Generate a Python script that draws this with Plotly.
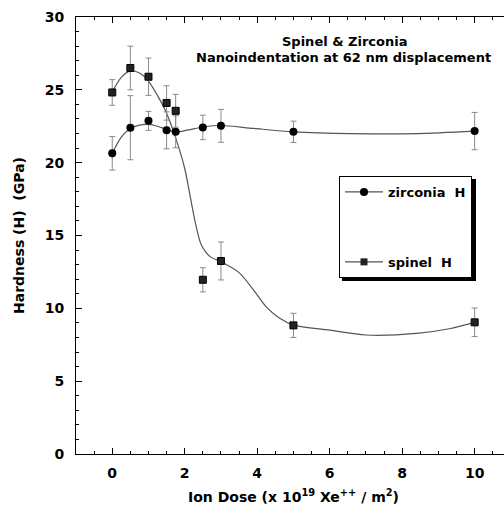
import plotly.graph_objects as go

# --- data ---
dose = [0, 0.5, 1, 1.5, 1.75, 2.5, 3, 5, 10]

zirconia_h = [20.64, 22.4, 22.87, 22.22, 22.12, 22.42, 22.53, 22.12, 22.17]
zirconia_err = [1.15, 2.2, 0.65, 1.27, 1.1, 0.84, 1.13, 0.73, 1.28]

spinel_h = [24.82, 26.5, 25.9, 24.1, 23.56, 11.96, 13.25, 8.83, 9.04]
spinel_err = [0.88, 1.5, 1.28, 1.18, 1.13, 0.83, 1.3, 0.83, 0.98]

# smoothed fit curves
zirconia_fit_x = [0, 0.25, 0.5, 0.75, 1.0, 1.25, 1.5, 1.75, 2.1, 2.5, 3.0, 3.9, 5.0, 6.6, 8.4, 10]
zirconia_fit_y = [20.64, 21.75, 22.35, 22.58, 22.63, 22.5, 22.28, 22.1, 22.25, 22.45, 22.55, 22.35, 22.12, 22.0, 22.0, 22.17]

spinel_fit_x = [0, 0.25, 0.5, 0.75, 1.0, 1.25, 1.5, 1.75, 2.0, 2.15, 2.3, 2.45, 2.7, 3.0, 3.5, 3.9, 4.25, 4.6, 5.0, 6.0, 7.0, 8.4, 9.3, 10]
spinel_fit_y = [24.85, 25.85, 26.3, 26.15, 25.6, 24.6, 23.4, 21.7, 19.6, 17.7, 15.8, 14.4, 13.55, 13.2, 12.45, 11.25, 10.1, 9.35, 8.85, 8.5, 8.17, 8.28, 8.6, 9.04]

x_ticks = [0, 2, 4, 6, 8, 10]
y_ticks = [0, 5, 10, 15, 20, 25, 30]

FONT = "DejaVu Sans"
LINE_C = "#555555"
ERR_C = "#8a8a8a"

fig = go.Figure()

fig.add_trace(go.Scatter(x=zirconia_fit_x, y=zirconia_fit_y, mode="lines",
                         line=dict(color=LINE_C, width=1.2, shape="spline", smoothing=0.8),
                         showlegend=False, hoverinfo="skip"))
fig.add_trace(go.Scatter(x=spinel_fit_x, y=spinel_fit_y, mode="lines",
                         line=dict(color=LINE_C, width=1.2, shape="spline", smoothing=0.8),
                         showlegend=False, hoverinfo="skip"))

fig.add_trace(go.Scatter(x=dose, y=zirconia_h, mode="markers", name="zirconia  H",
                         legendgroup="z", showlegend=False,
                         marker=dict(symbol="circle", size=8, color="black"),
                         error_y=dict(type="data", array=zirconia_err, color=ERR_C,
                                      thickness=1, width=3)))
fig.add_trace(go.Scatter(x=dose, y=spinel_h, mode="markers", name="spinel  H",
                         legendgroup="s", showlegend=False,
                         marker=dict(symbol="square", size=7, color="#222222",
                                     line=dict(color="black", width=1)),
                         error_y=dict(type="data", array=spinel_err, color=ERR_C,
                                      thickness=1, width=3)))

# legend entries (line through marker)
fig.add_trace(go.Scatter(x=[None], y=[None], mode="lines+markers", name="zirconia  H",
                         legendgroup="z",
                         line=dict(color=LINE_C, width=1.2),
                         marker=dict(symbol="circle", size=8, color="black")))
fig.add_trace(go.Scatter(x=[None], y=[None], mode="lines+markers", name="spinel  H",
                         legendgroup="s",
                         line=dict(color=LINE_C, width=1.2),
                         marker=dict(symbol="square", size=7, color="#222222")))

W, H = 504, 508
L, R, T, B = 76, 0, 17, 54
pw, ph = W - L - R, H - T - B


def px(xp):
    return (xp - L) / pw


def py(yp):
    return (H - B - yp) / ph


# legend shadow
fig.add_shape(type="rect", xref="paper", yref="paper",
              x0=px(342), x1=px(476), y0=py(281), y1=py(179),
              fillcolor="black", line=dict(width=0), layer="above")

fig.update_layout(
    width=W, height=H,
    margin=dict(l=L, r=R, t=T, b=B),
    paper_bgcolor="white", plot_bgcolor="white",
    font=dict(family=FONT, size=13, color="black", weight="bold"),
    showlegend=True,
    legend=dict(x=px(339), y=py(176), xanchor="left", yanchor="top",
                bgcolor="white", bordercolor="black", borderwidth=1,
                tracegroupgap=50, font=dict(size=13, weight="bold"),
                itemwidth=38),
    xaxis=dict(range=[-1, 10.81], tickvals=x_ticks,
               ticks="inside", ticklen=6, tickcolor="black",
               showline=True, linecolor="black", linewidth=1, mirror="allticks",
               showgrid=False, zeroline=False,
               minor=dict(dtick=0.5, ticks="inside", ticklen=3, tickcolor="black", showgrid=False),
               ticklabelstandoff=6,
               tickfont=dict(size=14, weight="bold")),
    yaxis=dict(range=[0, 30], tickvals=y_ticks,
               ticks="inside", ticklen=6, tickcolor="black",
               showline=True, linecolor="black", linewidth=1,
               showgrid=False, zeroline=False,
               minor=dict(dtick=1, ticks="inside", ticklen=3, tickcolor="black", showgrid=False),
               ticklabelstandoff=8,
               tickfont=dict(size=14, weight="bold"),
               title=dict(text="Hardness (H)  (GPa)", font=dict(size=14, weight="bold"),
                          standoff=16)),
    annotations=[
        dict(text="Spinel & Zirconia", xref="paper", yref="paper",
             x=px(344), y=py(41), xanchor="center", yanchor="middle",
             showarrow=False, font=dict(size=13, weight="bold")),
        dict(text="Nanoindentation at 62 nm displacement", xref="paper", yref="paper",
             x=px(343), y=py(57), xanchor="center", yanchor="middle",
             showarrow=False, font=dict(size=13, weight="bold")),
        dict(text="Ion Dose (x 10<sup>19</sup> Xe<sup>++</sup> / m<sup>2</sup>)",
             xref="paper", yref="paper", x=px(293), y=py(496),
             xanchor="center", yanchor="middle", showarrow=False,
             font=dict(size=14, weight="bold")),
    ],
)

fig.write_html("out.html", config={"displayModeBar": False},
               post_script="document.body.style.margin='0';")
